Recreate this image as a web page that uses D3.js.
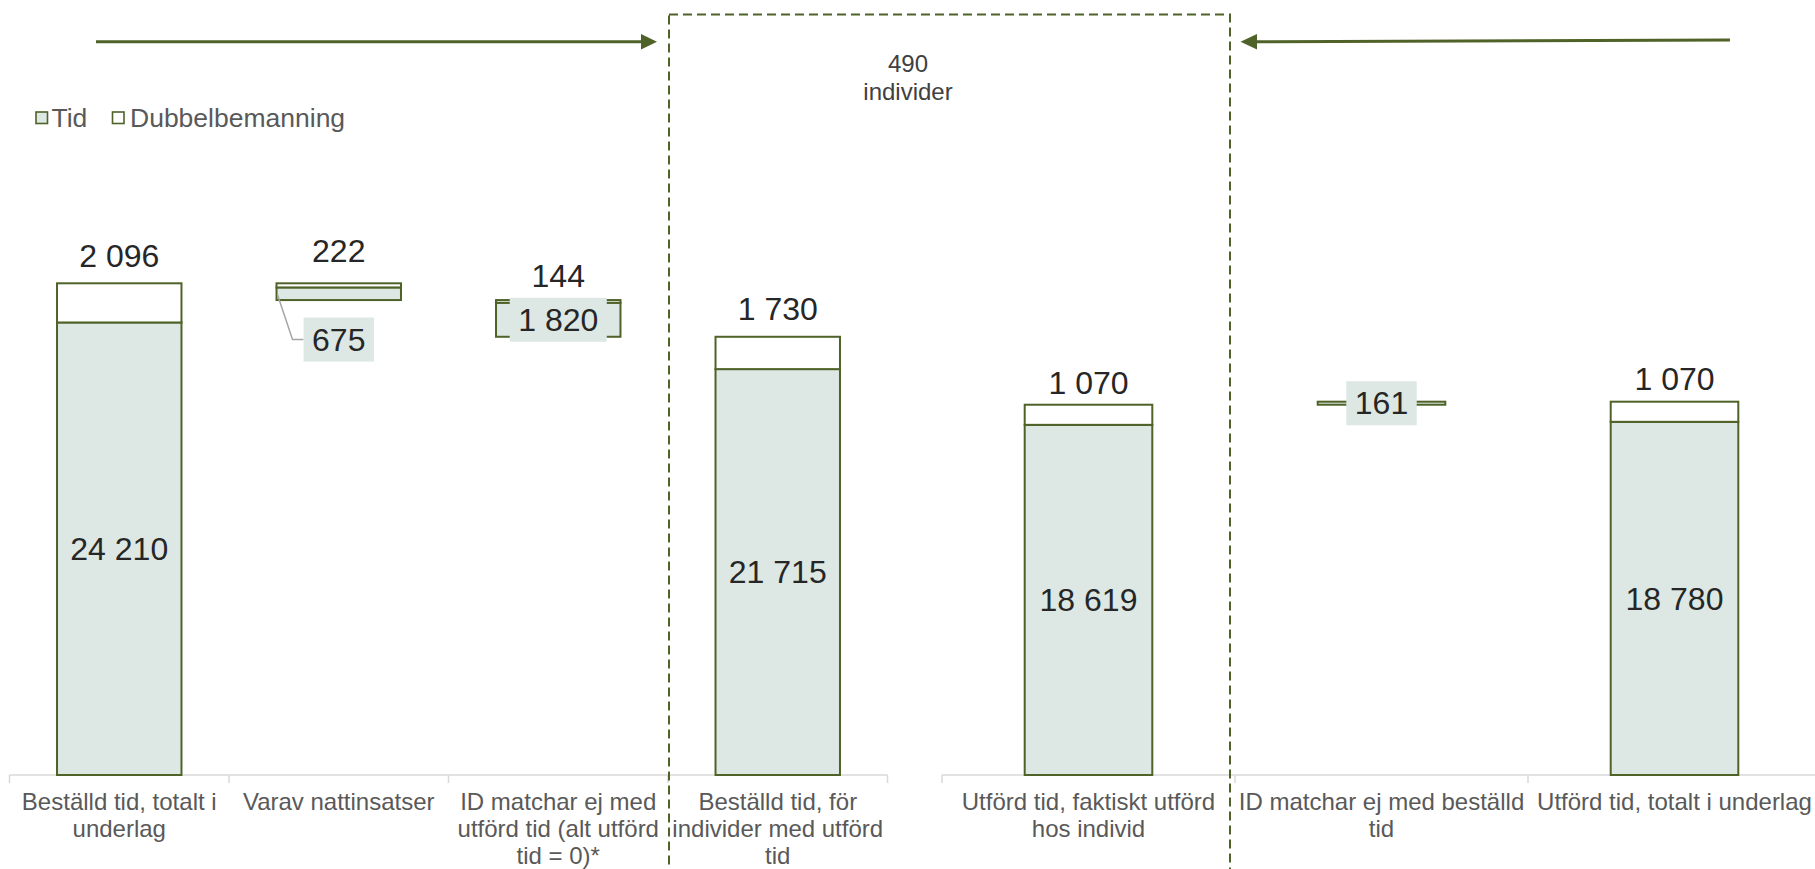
<!DOCTYPE html>
<html><head><meta charset="utf-8">
<script src="https://cdn.jsdelivr.net/npm/d3@7"></script>
<style>
body{margin:0;background:#fff}
svg{display:block}
text{font-family:"Liberation Sans",Arial,sans-serif}
</style>
</head><body><svg id="c" width="1815" height="869"></svg>
<script>
// ---------- data ----------
const leftCategories = ["Beställd tid, totalt i underlag", "Varav nattinsatser", "ID matchar ej med utförd tid (alt utförd tid = 0)*", "Beställd tid, för individer med utförd tid"];
const leftTid = [24210, 675, 1820, 21715];
const leftDubbel = [2096, 222, 144, 1730];
const leftSteps = ["total", "down", "down", "total"];

const rightCategories = ["Utförd tid, faktiskt utförd hos individ", "ID matchar ej med beställd tid", "Utförd tid, totalt i underlag"];
const rightTid = [18619, 161, 18780];
const rightDubbel = [1070, 0, 1070];
const rightSteps = ["total", "up", "total"];

const seriesNames = ["Tid", "Dubbelbemanning"];
const boxNote = ["490", "individer"];

// ---------- style ----------
const C_STROKE = "#4f6228", C_FILL = "#dde8e4", C_AXIS = "#d9d9d9", C_CAT = "#595959", C_LBL = "#262626";
const BASE = 775;
const fmt = v => d3.format(",")(v).replace(/,/g, " ");

const svg = d3.select("#c");
svg.append("rect").attr("width", 1815).attr("height", 869).attr("fill", "#fff");

function waterfall(cats, tid, dub, steps) {
  let running = 0;
  return cats.map((c, i) => {
    const total = tid[i] + dub[i];
    let base;
    if (steps[i] === "total") { base = 0; running = total; }
    else if (steps[i] === "down") { base = running - total; running = base; }
    else { base = running; running = base + total; }
    return {cat: c, i, tid: tid[i], dub: dub[i], base, tidTop: base + tid[i], top: base + total, step: steps[i]};
  });
}

function wrap(textSel, width, lh) {
  textSel.each(function () {
    const t = d3.select(this);
    const words = t.text().split(/\s+/);
    t.text(null);
    let line = [];
    let ts = t.append("tspan").attr("x", t.attr("x")).attr("dy", 0);
    for (const w of words) {
      line.push(w);
      ts.text(line.join(" "));
      if (ts.node().getComputedTextLength() > width && line.length > 1) {
        line.pop(); ts.text(line.join(" "));
        line = [w];
        ts = t.append("tspan").attr("x", t.attr("x")).attr("dy", lh).text(w);
      }
    }
  });
}

function panel(cfg) {
  const data = waterfall(cfg.cats, cfg.tid, cfg.dub, cfg.steps);
  const p = cfg.pad;
  const x = d3.scaleBand().domain(cfg.cats).range([cfg.x0, cfg.x1]).paddingInner(p).paddingOuter(p / 2);
  const xa = d3.scaleBand().domain(cfg.cats).range([cfg.x0, cfg.x1]).padding(0);
  const y = d3.scaleLinear().domain([0, 30000]).range([BASE, BASE - 30000 * cfg.k]);
  const g = svg.append("g");

  // axis
  const ax = g.append("g");
  ax.append("line").attr("x1", cfg.x0).attr("x2", cfg.x1).attr("y1", BASE).attr("y2", BASE)
    .attr("stroke", C_AXIS).attr("stroke-width", 1.5);
  const bounds = cfg.cats.map(c => xa(c)).concat([cfg.x1]);
  ax.selectAll(".tk").data(bounds).join("line")
    .attr("x1", d => d).attr("x2", d => d).attr("y1", BASE).attr("y2", BASE + 8)
    .attr("stroke", C_AXIS).attr("stroke-width", 1.5);
  ax.selectAll(".cl").data(cfg.cats).join("text")
    .attr("x", d => xa(d) + xa.step() / 2).attr("y", BASE + 35)
    .attr("text-anchor", "middle").attr("font-size", 24).attr("fill", C_CAT)
    .text(d => d)
    .call(wrap, xa.step() - 4, 27.2);

  // bars: tid segment
  g.selectAll(".tid").data(data).join("rect")
    .attr("x", d => x(d.cat)).attr("width", x.bandwidth())
    .attr("y", d => y(d.tidTop)).attr("height", d => y(d.base) - y(d.tidTop))
    .attr("fill", C_FILL).attr("stroke", C_STROKE).attr("stroke-width", 2);
  // dubbel segment
  g.selectAll(".dub").data(data.filter(d => d.dub > 0)).join("rect")
    .attr("x", d => x(d.cat)).attr("width", x.bandwidth())
    .attr("y", d => y(d.top)).attr("height", d => y(d.tidTop) - y(d.top))
    .attr("fill", "#fff").attr("stroke", C_STROKE).attr("stroke-width", 2);

  // dubbel labels above bars
  g.selectAll(".dl").data(data.filter(d => d.dub > 0)).join("text")
    .attr("x", d => x(d.cat) + x.bandwidth() / 2)
    .attr("y", d => y(d.top) - cfg.gap[d.i])
    .attr("text-anchor", "middle").attr("font-size", 32).attr("fill", C_LBL)
    .text(d => fmt(d.dub));

  // tid labels
  data.forEach(d => {
    const cx = x(d.cat) + x.bandwidth() / 2;
    let cy = (y(d.base) + y(d.tidTop)) / 2;
    if (d.step === "total") {
      g.append("text").attr("x", cx).attr("y", cy).attr("dy", "0.35em")
        .attr("text-anchor", "middle").attr("font-size", 32).attr("fill", C_LBL).text(fmt(d.tid));
      return;
    }
    const segMid = cy;
    const isBelow = cfg.below && cfg.below.includes(d.i);
    if (isBelow) cy = y(d.base) + 39.5;
    const lg = g.append("g");
    const r = lg.append("rect").attr("fill", C_FILL);
    const t = lg.append("text").attr("x", cx).attr("y", cy).attr("dy", "0.35em")
      .attr("text-anchor", "middle").attr("font-size", 32).attr("fill", C_LBL).text(fmt(d.tid));
    const w = t.node().getComputedTextLength() + 17;
    r.attr("x", cx - w / 2).attr("y", cy - 22).attr("width", w).attr("height", 44);
    if (isBelow) {
      const bx = x(d.cat) + 1;
      lg.insert("path", "rect")
        .attr("d", `M${bx},${segMid + 1}L${bx + 15},${cy}L${cx - w / 2},${cy}`)
        .attr("fill", "none").attr("stroke", "#a6a6a6").attr("stroke-width", 1.5);
    }
  });
}

panel({cats: leftCategories, tid: leftTid, dub: leftDubbel, steps: leftSteps,
  x0: 9.5, x1: 887.5, pad: 0.433, k: 491.7 / 26306, gap: [16, 21, 13, 17], below: [1]});
panel({cats: rightCategories, tid: rightTid, dub: rightDubbel, steps: rightSteps,
  x0: 942, x1: 1821, pad: 0.5645, k: 373.3 / 19850, gap: [11, 0, 12]});

// legend
const lg = svg.append("g");
[[36, seriesNames[0], C_FILL, 51.5], [112.5, seriesNames[1], "#fff", 130]].forEach(([sx, name, fill, tx]) => {
  lg.append("rect").attr("x", sx).attr("y", 112).attr("width", 11.5).attr("height", 11.5)
    .attr("fill", fill).attr("stroke", C_STROKE).attr("stroke-width", 1.6);
  lg.append("text").attr("x", tx).attr("y", 126.5).attr("font-size", 26.5).attr("fill", C_CAT).text(name);
});

// dashed box
svg.append("rect").attr("x", 669).attr("y", 14.5).attr("width", 561).attr("height", 900)
  .attr("fill", "none").attr("stroke", C_STROKE).attr("stroke-width", 2).attr("stroke-dasharray", "9,5");
svg.append("text").attr("x", 908).attr("y", 71.5).attr("text-anchor", "middle")
  .attr("font-size", 24).attr("fill", "#404040").text(boxNote[0]);
svg.append("text").attr("x", 908).attr("y", 99.5).attr("text-anchor", "middle")
  .attr("font-size", 24).attr("fill", "#404040").text(boxNote[1]);

// arrows
svg.append("line").attr("x1", 96).attr("y1", 41.7).attr("x2", 643).attr("y2", 41.7)
  .attr("stroke", C_STROKE).attr("stroke-width", 3);
svg.append("path").attr("d", "M641,34L657,41.7L641,49.4Z").attr("fill", C_STROKE);
svg.append("line").attr("x1", 1730).attr("y1", 40).attr("x2", 1255).attr("y2", 41.7)
  .attr("stroke", C_STROKE).attr("stroke-width", 3);
svg.append("path").attr("d", "M1257,34L1240.5,41.7L1257,49.4Z").attr("fill", C_STROKE);
</script>
</body></html>
